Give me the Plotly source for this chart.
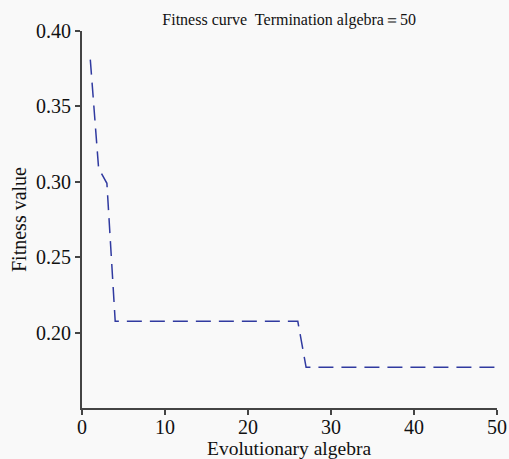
import plotly.graph_objects as go

generations = list(range(1, 51))
fitness = [0.381, 0.309, 0.299] + [0.2075] * 23 + [0.177] * 24

x_ticks = [0, 10, 20, 30, 40, 50]
y_ticks = [0.20, 0.25, 0.30, 0.35, 0.40]
y_tick_text = ["0.20", "0.25", "0.30", "0.35", "0.40"]

fig = go.Figure()
fig.add_trace(go.Scatter(
    x=generations, y=fitness, mode="lines",
    line=dict(color="rgb(48,58,160)", width=1.5, dash="15px,8px"),
    showlegend=False,
))

font_family = "Liberation Serif, Times New Roman, serif"
fig.update_layout(
    width=509, height=459,
    margin=dict(l=82, r=12, t=31, b=51, autoexpand=False),
    paper_bgcolor="#f9f9f9", plot_bgcolor="#f9f9f9",
    font=dict(family=font_family, color="#111"),
    title=dict(text="Fitness curve  Termination algebra\uff1d50", x=0.568, xanchor="center",
               y=0.958, yanchor="middle", font=dict(size=16, family=font_family, color="#111")),
    xaxis=dict(range=[0, 50], tickvals=x_ticks, ticks="outside", ticklen=5, tickwidth=1.5,
               tickcolor="#444", showline=True, linecolor="#444", linewidth=2, showgrid=False,
               zeroline=False, tickfont=dict(size=20), automargin=False, ticklabelstandoff=-5),
    yaxis=dict(range=[0.15, 0.40], tickvals=y_ticks, ticktext=y_tick_text, ticks="outside",
               ticklen=5, tickwidth=1.5, tickcolor="#444", showline=True, linecolor="#444",
               linewidth=2, showgrid=False, zeroline=False, tickfont=dict(size=20), automargin=False,
               title=dict(text="Fitness value", font=dict(size=20), standoff=4)),
)
fig.add_annotation(text="Evolutionary algebra", xref="paper", yref="paper", x=0.499, y=-0.074,
                   xanchor="center", yanchor="top", showarrow=False,
                   font=dict(size=19.5, family=font_family, color="#111"))

fig.write_html("out.html")
